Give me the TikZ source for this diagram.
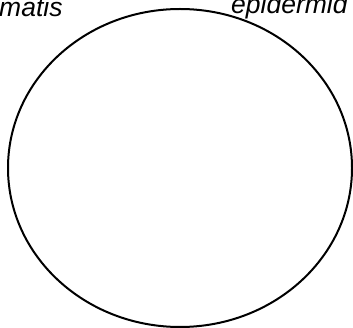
\documentclass[tikz,border=0pt]{standalone}
\usepackage{fontspec}
\setmainfont{Liberation Sans}
\usepackage{tikz}
\usetikzlibrary{shapes.geometric}

\begin{document}
\begin{tikzpicture}[
  x=1pt,y=-1pt,
  label/.style={inner sep=0pt,font=\fontsize{26.5}{31}\selectfont\itshape},
  set/.style={draw,ellipse,line width=2pt,inner sep=0pt,
              minimum width=344pt,minimum height=318pt}
]
\useasboundingbox (0,0) rectangle (353,328);
\clip (0,0) rectangle (353,328);
\node[set] (cell) at (180,168) {};
\node[label,anchor=base west] (left) at (-1,17) {matis};
\node[label,anchor=base west] (right) at (231,13.5) {epidermid};
\end{tikzpicture}
\end{document}
